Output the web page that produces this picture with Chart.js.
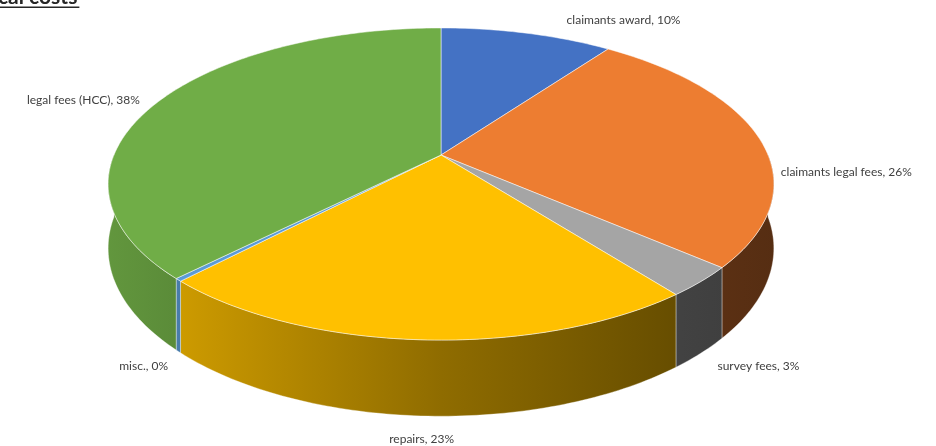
<!DOCTYPE html>
<html>
<head>
<meta charset="utf-8">
<script src="https://cdn.jsdelivr.net/npm/chart.js@4.4.1/dist/chart.umd.min.js"></script>
<style>
  html, body { margin: 0; padding: 0; background: #fff; }
  #wrap { width: 936px; height: 446px; position: relative; overflow: hidden; }
</style>
</head>
<body>
<div id="wrap"><canvas id="pie" width="936" height="446"></canvas></div>
<script>
// --- DATA ---
const categories = ['claimants award', 'claimants legal fees', 'survey fees', 'repairs', 'misc.', 'legal fees (HCC)'];
const shares = [10.0, 26.4, 3.1, 22.6, 0.3, 37.6];
const sliceColors = ['#4472C4', '#ED7D31', '#A5A5A5', '#FFC000', '#5B9BD5', '#70AD47'];
const titleText = 'cal costs';

// --- HELPERS ---
function shade(hex, f) {
    const n = parseInt(hex.slice(1), 16);
    const r = Math.round(((n >> 16) & 255) * f);
    const g = Math.round(((n >> 8) & 255) * f);
    const b = Math.round((n & 255) * f);
    return `rgb(${r},${g},${b})`;
}

// perspective tilt of the disc: X right, Z towards the viewer
const PERSP = 5.38;
function project(geo, a, r, depth) {
    const X = Math.cos(a) * r, Z = Math.sin(a) * r;
    const k = PERSP / (PERSP - Z);
    return [geo.cx + geo.rx * X * k, geo.cy + geo.ry * Z * k + depth * geo.th * k];
}

function geometry(chart) {
    const arc = chart.getDatasetMeta(0).data[0];
    const R = arc.outerRadius;
    return { cx: arc.x, cy: arc.y, rx: R * 2.11, ry: R * 0.972, th: R * 0.4 };
}

// --- 3D PIE PLUGIN ---
const pie3d = {
    id: 'pie3d',
    beforeDatasetsDraw(chart) {
        const ctx = chart.ctx;
        const arcs = chart.getDatasetMeta(0).data;
        const geo = geometry(chart);
        const step = Math.PI / 180;
        ctx.save();
        ctx.lineJoin = 'round';

        // side walls (front half only)
        arcs.forEach((arc, i) => {
            const a0 = Math.max(arc.startAngle, 0);
            const a1 = Math.min(arc.endAngle, Math.PI);
            if (a1 <= a0) return;
            const n = Math.max(2, Math.ceil((a1 - a0) / step));
            ctx.beginPath();
            for (let j = 0; j <= n; j++) {
                const p = project(geo, a0 + (a1 - a0) * j / n, 1, 0);
                j === 0 ? ctx.moveTo(p[0], p[1]) : ctx.lineTo(p[0], p[1]);
            }
            for (let j = n; j >= 0; j--) {
                const p = project(geo, a0 + (a1 - a0) * j / n, 1, 1);
                ctx.lineTo(p[0], p[1]);
            }
            ctx.closePath();
            const g = ctx.createLinearGradient(geo.cx - geo.rx * 1.05, 0, geo.cx + geo.rx * 1.05, 0);
            const c = sliceColors[i];
            g.addColorStop(0, shade(c, 0.88));
            g.addColorStop(0.5, shade(c, 0.56));
            g.addColorStop(0.85, shade(c, 0.40));
            g.addColorStop(1, shade(c, 0.36));
            ctx.fillStyle = g;
            ctx.fill();
            ctx.strokeStyle = 'rgba(255,255,255,0.35)';
            ctx.lineWidth = 1;
            ctx.stroke();
        });

        // top faces
        arcs.forEach((arc, i) => {
            const a0 = arc.startAngle, a1 = arc.endAngle;
            const n = Math.max(2, Math.ceil((a1 - a0) / step));
            ctx.beginPath();
            ctx.moveTo(geo.cx, geo.cy);
            for (let j = 0; j <= n; j++) {
                const p = project(geo, a0 + (a1 - a0) * j / n, 1, 0);
                ctx.lineTo(p[0], p[1]);
            }
            ctx.closePath();
            ctx.fillStyle = sliceColors[i];
            ctx.fill();
            ctx.strokeStyle = 'rgba(255,255,255,0.5)';
            ctx.lineWidth = 1;
            ctx.stroke();
        });

        ctx.restore();
        return false;
    },
    afterDraw(chart, args, opts) {
        const ctx = chart.ctx;
        const arcs = chart.getDatasetMeta(0).data;
        const geo = geometry(chart);
        ctx.save();

        // data labels
        ctx.font = '12px Lato';
        ctx.fillStyle = '#404040';
        ctx.textAlign = 'center';
        ctx.textBaseline = 'middle';
        arcs.forEach((arc, i) => {
            const mid = (arc.startAngle + arc.endAngle) / 2;
            const X = Math.cos(mid), Z = Math.sin(mid);
            const rim = project(geo, mid, 1, Z > 0 ? 1 : 0.5);
            const dl = Math.hypot(X, Z * 0.46);
            const ax = rim[0] + X / dl * 14, ay = rim[1] + Z * 0.46 / dl * 14;
            const text = `${categories[i]}, ${Math.round(shares[i])}%`;
            const w = ctx.measureText(text).width;
            const nudge = opts.labelNudge[i] || [0, 0];
            ctx.fillText(text, ax + X * w / 2 + nudge[0], ay + Z * 7 + nudge[1]);
        });

        // clipped heading, top-left
        ctx.font = 'bold 21px Lato';
        ctx.fillStyle = '#262626';
        ctx.textAlign = 'left';
        ctx.textBaseline = 'alphabetic';
        ctx.fillText(titleText, -2, 4);
        const tw = ctx.measureText(titleText).width;
        ctx.fillRect(-2, 6.5, tw + 2, 1.5);
        ctx.restore();
    }
};

new Chart(document.getElementById('pie'), {
    type: 'pie',
    data: {
        labels: categories,
        datasets: [{
            data: shares,
            backgroundColor: sliceColors,
            borderWidth: 0
        }]
    },
    options: {
        responsive: false,
        animation: false,
        layout: { padding: { left: 0, right: 54, top: 0, bottom: 136 } },
        plugins: {
            legend: { display: false },
            tooltip: { enabled: false },
            pie3d: { labelNudge: [[71, -21], [8, 5], [17, 2], [4, 2], [-5, 4], [-9, -25]] }
        }
    },
    plugins: [pie3d]
});
</script>
</body>
</html>
